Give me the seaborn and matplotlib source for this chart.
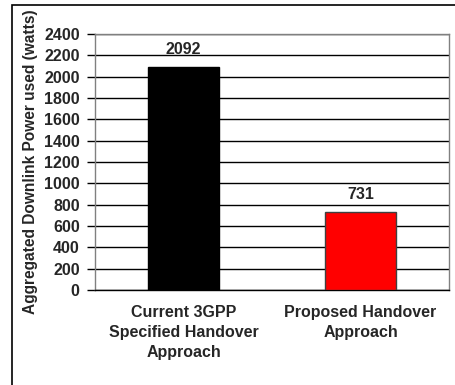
import matplotlib
matplotlib.use("Agg")
import matplotlib.pyplot as plt
import seaborn as sns
import pandas as pd
from matplotlib.patches import Rectangle

approaches = ["Current 3GPP\nSpecified Handover\nApproach", "Proposed Handover\nApproach"]
power_watts = [2092, 731]
bar_colors = ["#000000", "#ff0000"]
y_ticks = list(range(0, 2401, 200))

df = pd.DataFrame({"approach": approaches, "power": power_watts})

sns.set_style("white")
plt.rcParams["font.family"] = ["Liberation Sans", "DejaVu Sans"]
plt.rcParams["font.weight"] = "bold"

fig = plt.figure(figsize=(4.56, 3.85), dpi=100)
ax = fig.add_axes([95 / 456, 1 - 290 / 385, (449 - 95) / 456, (290 - 34) / 385])

# outer frame of the original figure
fig.patches.append(Rectangle((12 / 456, -0.1), 1.1, 1 - 5 / 385 + 0.1,
                             transform=fig.transFigure, fill=False,
                             edgecolor="black", linewidth=1.2, zorder=0))

sns.barplot(data=df, x="approach", y="power", hue="approach", palette=bar_colors,
            width=0.4, saturation=1, legend=False, ax=ax, zorder=3)
for bar, ec in zip(ax.patches, ["#000000", "#404040"]):
    bar.set_edgecolor(ec)
    bar.set_linewidth(1)

for c in ax.containers:
    ax.bar_label(c, fmt="%d", padding=7, fontsize=11.5, fontweight="bold")

ax.set_ylim(0, 2400)
ax.set_xlim(-0.5, 1.5)
ax.set_yticks(y_ticks)
ax.yaxis.grid(True, color="black", linewidth=1)
ax.set_axisbelow(True)

ax.set_xticks([0, 1])
ax.set_xticklabels(approaches, fontsize=11.5, fontweight="bold", linespacing=1.4)
ax.set_xticks([-0.5, 0.5, 1.5], minor=True)
ax.tick_params(axis="x", which="major", length=0, pad=11)
ax.tick_params(axis="x", which="minor", length=5, width=1, color="black", direction="out")
ax.tick_params(axis="y", length=6, width=1, color="black", direction="out", pad=5,
               labelsize=11.5, left=True)
for lbl in ax.get_yticklabels():
    lbl.set_fontweight("bold")

ax.set_xlabel("")
ax.set_ylabel("Aggregated Downlink Power used (watts)", fontsize=11.2,
              fontweight="bold", labelpad=4)

for s in ax.spines.values():
    s.set_color("#808080")
    s.set_linewidth(1)
ax.spines["bottom"].set_color("black")

fig.savefig("out.png", dpi=100)
